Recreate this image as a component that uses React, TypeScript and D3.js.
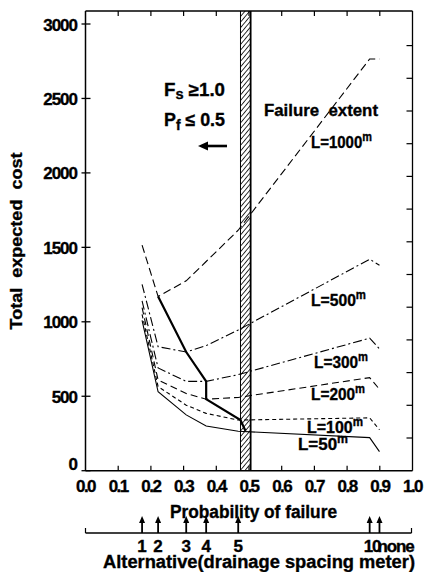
import React from "react";
import * as d3 from "d3";

// Alternatives (probability of failure positions)
const altLabels = ["1", "2", "3", "4", "5", "10", "none"];
const altP = [0.173, 0.222, 0.308, 0.369, 0.467, 0.869, 0.899];

// Total expected cost for each failure extent L at each alternative
const seriesNames = ["1000", "500", "300", "200", "100", "50"];
const cost1000 = [1515, 1170, 1275, 1405, 1615, 2765, 2765];
const cost500 = [1252, 833, 797, 840, 945, 1420, 1380];
const cost300 = [1140, 690, 600, 600, 645, 890, 818];
const cost200 = [1095, 609, 518, 480, 492, 625, 547];
const cost100 = [1050, 565, 440, 385, 340, 355, 275];
const cost50 = [1010, 530, 375, 300, 265, 222, 128];

// Optimum path (thick line)
const optP = [0.222, 0.308, 0.369, 0.369, 0.474, 0.489];
const optCost = [1170, 797, 600, 480, 340, 268];

const yTicks = [0, 500, 1000, 1500, 2000, 2500, 3000];
const xTicks = [0, 0.1, 0.2, 0.3, 0.4, 0.5, 0.6, 0.7, 0.8, 0.9, 1.0];
const xTickLabels = ["0.0", "0.1", "0.2", "0.3", "0.4", "0.5", "0.6", "0.7", "0.8", "0.9", "1.0"];
const rightTicks = [0.1, 0.2, 0.3, 0.4, 0.5, 0.6, 0.7, 0.8, 0.9, 1.0, 1.1, 1.2, 1.3];
const bandP = [0.474, 0.505];

const FONT = "'Liberation Sans', Arial, sans-serif";

export default function App() {
  const left = 85.5, right = 412.5, top = 11, bottom = 470.7;
  const x = d3.scaleLinear().domain([0, 1]).range([left, right]);
  const y = d3.scaleLinear().domain([0, 3000]).range([bottom, 24]);
  const yR = d3.scaleLinear().domain([0, 1]).range([bottom, bottom - (right - left)]);

  const line = d3.line<[number, number]>().x((d) => x(d[0])).y((d) => y(d[1]));
  const allCosts = [cost1000, cost500, cost300, cost200, cost100, cost50];
  const dashes = ["8,4", "9,3,2,3", "9,3,2,3", "7,4", "4,3", ""];

  const labelPos: { x: number; y: number; w: number }[] = [
    { x: 311, y: 148, w: 61 },
    { x: 311, y: 306, w: 55 },
    { x: 314, y: 367.5, w: 54 },
    { x: 311, y: 400, w: 54 },
    { x: 307, y: 433, w: 56 },
    { x: 298, y: 449.5, w: 50 },
  ];

  const altY = 533;
  const pre = { whiteSpace: "pre" as const };

  return (
    <svg
      width={424}
      height={572}
      style={{ position: "absolute", left: 0, top: 0, background: "#fff" }}
      fontFamily={FONT}
    >
      <defs>
        <pattern id="hatch" width="3.6" height="3.6" patternUnits="userSpaceOnUse" patternTransform="rotate(40)">
          <line x1="0" y1="0" x2="0" y2="3.6" stroke="#000" strokeWidth="1.6" />
        </pattern>
      </defs>
      <rect x={0} y={0} width={424} height={572} fill="#fff" />

      {/* hatched band */}
      <rect x={x(bandP[0])} y={top} width={x(bandP[1]) - x(bandP[0])} height={bottom - top} fill="url(#hatch)" />
      <line x1={x(bandP[0])} x2={x(bandP[0])} y1={top} y2={bottom} stroke="#000" strokeWidth={1} />
      <line x1={x(bandP[1])} x2={x(bandP[1])} y1={top} y2={bottom} stroke="#000" strokeWidth={1.8} />

      {/* frame */}
      <line x1={left} x2={left} y1={top} y2={bottom} stroke="#000" strokeWidth={1.5} />
      <line x1={left} x2={right} y1={bottom} y2={bottom} stroke="#000" strokeWidth={1.6} />
      <line x1={left} x2={right} y1={top} y2={top} stroke="#000" strokeWidth={1.3} />
      <line x1={right} x2={right} y1={top} y2={bottom} stroke="#000" strokeWidth={1.3} />

      {/* ticks */}
      {yTicks.map((t) => (
        <line key={"yt" + t} x1={left - 4} x2={left + 5} y1={y(t)} y2={y(t)} stroke="#000" strokeWidth={1.3} />
      ))}
      {xTicks.slice(1, -1).map((t) => (
        <g key={"xt" + t}>
          <line x1={x(t)} x2={x(t)} y1={bottom} y2={bottom - 5} stroke="#000" strokeWidth={1.2} />
          <line x1={x(t)} x2={x(t)} y1={top} y2={top + 5} stroke="#000" strokeWidth={1.2} />
        </g>
      ))}
      {rightTicks.map((t) => (
        <line key={"r" + t} x1={right} x2={right - 6} y1={yR(t)} y2={yR(t)} stroke="#000" strokeWidth={1.2} />
      ))}

      {/* series */}
      {allCosts.map((c, si) => (
        <path
          key={"s" + si}
          d={line(altP.map((p, i) => [p, c[i]] as [number, number])) || ""}
          fill="none"
          stroke="#000"
          strokeWidth={1.1}
          strokeDasharray={dashes[si] || undefined}
        />
      ))}

      {/* optimum path */}
      <path
        d={line(optP.map((p, i) => [p, optCost[i]] as [number, number])) || ""}
        fill="none"
        stroke="#000"
        strokeWidth={2.2}
      />

      <line x1={205} x2={227} y1={146} y2={146} stroke="#000" strokeWidth={2.6} />
      <path d="M198,146 L208,141.5 L208,150.5 Z" fill="#000" />

      {/* alternative axis */}
      <line x1={left} x2={right - 1} y1={altY} y2={altY} stroke="#000" strokeWidth={1.3} />
      <line x1={left} x2={left} y1={altY} y2={altY - 5} stroke="#000" strokeWidth={1.2} />
      <line x1={right - 1} x2={right - 1} y1={altY} y2={altY - 5} stroke="#000" strokeWidth={1.2} />
      {altP.map((p, i) => (
        <g key={"a" + i}>
          <line x1={x(p)} x2={x(p)} y1={altY} y2={altY - 12} stroke="#000" strokeWidth={1.8} />
          <path d={`M${x(p)},${altY - 17} L${x(p) - 3},${altY - 10} L${x(p) + 3},${altY - 10} Z`} fill="#000" />
        </g>
      ))}

      {/* all text, slightly stroked for heavier weight */}
      <g stroke="#000" strokeWidth={0.35} fill="#000" fontWeight="bold">
        {yTicks.map((t) => (
          <text key={"y" + t} x={77} y={y(t) + (t === 0 ? -1 : 6.5)} textAnchor="end" fontSize={17} letterSpacing={-1}>
            {t}
          </text>
        ))}
        {xTicks.map((t, i) => (
          <text key={"x" + t} x={x(t)} y={491.5} textAnchor="middle" fontSize={17} letterSpacing={-1.5}>
            {xTickLabels[i]}
          </text>
        ))}

        {seriesNames.map((n, i) => (
          <text
            key={"l" + n}
            x={labelPos[i].x}
            y={labelPos[i].y}
            fontSize={16.5}
            textLength={labelPos[i].w}
            lengthAdjust="spacingAndGlyphs"
          >
            {"L=" + n}
            <tspan fontSize={12} dy={-7}>m</tspan>
          </text>
        ))}

        <text x={264} y={116} fontSize={17} textLength={114} lengthAdjust="spacingAndGlyphs" style={pre}>
          Failure  extent
        </text>
        <text x={164} y={96} fontSize={18} textLength={61} lengthAdjust="spacingAndGlyphs">
          F<tspan fontSize={14} dy={3}>s</tspan>
          <tspan dy={-3}> ≥1.0</tspan>
        </text>
        <text x={164} y={126} fontSize={18} textLength={61} lengthAdjust="spacingAndGlyphs">
          P<tspan fontSize={14} dy={4}>f</tspan>
          <tspan dy={-4}> ≤ 0.5</tspan>
        </text>

        <text
          transform={`translate(22,${241}) rotate(-90)`}
          textAnchor="middle"
          fontSize={17}
          textLength={177}
          lengthAdjust="spacingAndGlyphs"
          style={pre}
        >
          Total  expected  cost
        </text>
        <text x={253.5} y={517.5} textAnchor="middle" fontSize={17.5} textLength={167} lengthAdjust="spacingAndGlyphs">
          Probability of failure
        </text>

        {altLabels.map((l, i) => {
          const cx = i === 5 ? 372 : i === 6 ? 395.5 : x(altP[i]);
          return (
            <text key={"al" + i} x={cx} y={551.5} textAnchor="middle" fontSize={17} letterSpacing={i >= 5 ? -1.2 : 0}>
              {l}
            </text>
          );
        })}
        <text x={259} y={567.5} textAnchor="middle" fontSize={17.5} textLength={312} lengthAdjust="spacingAndGlyphs">
          Alternative(drainage spacing meter)
        </text>
      </g>
    </svg>
  );
}
